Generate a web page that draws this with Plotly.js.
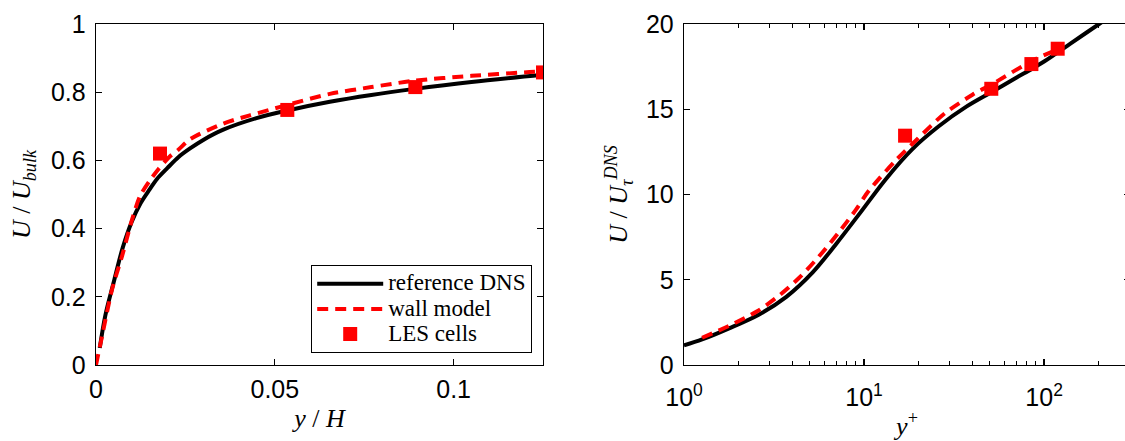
<!DOCTYPE html>
<html>
<head>
<meta charset="utf-8">
<script src="https://cdn.plot.ly/plotly-3.0.1.min.js"></script>
<style>
html,body{margin:0;padding:0;overflow:hidden;background:#fff;}
#chart{width:1140px;height:441px;}
</style>
</head>
<body>
<div id="chart"></div>
<script>
// ---- Left panel: U/U_bulk vs y/H ----
const dnsYH = [0.00105, 0.0026, 0.0050, 0.0075, 0.0100, 0.0125, 0.0150, 0.0170, 0.0200, 0.0231, 0.0263, 0.0300, 0.0356, 0.0449, 0.0542, 0.0654, 0.0770, 0.0886, 0.1050, 0.1250];
const dnsUb = [0.05, 0.145, 0.245, 0.345, 0.42, 0.475, 0.515, 0.545, 0.578, 0.61, 0.635, 0.66, 0.69, 0.724, 0.748, 0.772, 0.792, 0.809, 0.83, 0.851];
const wmYH = [0, 0.0017, 0.0045, 0.0073, 0.0101, 0.0123, 0.0150, 0.0175, 0.0207, 0.0231, 0.0263, 0.0356, 0.0430, 0.0533, 0.0654, 0.0770, 0.0886, 0.1050, 0.1212, 0.1250];
const wmUb = [0, 0.085, 0.222, 0.32, 0.427, 0.495, 0.54, 0.575, 0.612, 0.632, 0.662, 0.708, 0.732, 0.762, 0.795, 0.815, 0.833, 0.848, 0.859, 0.861];
const lesYH = [0.0179, 0.0535, 0.0893, 0.125];
const lesUb = [0.62, 0.748, 0.815, 0.858];

// ---- Right panel: U/U_tau vs y+ ----
const dnsYplus = [1, 1.26, 1.78, 2.6, 3.7, 5.2, 7.0, 9.4, 13.2, 18.5, 26, 37, 52, 70, 85, 100, 140, 202, 300];
const dnsUplus = [1.15, 1.5, 2.15, 2.95, 4.0, 5.45, 7.1, 8.85, 10.9, 12.65, 14.0, 15.15, 16.05, 16.85, 17.35, 17.8, 18.85, 20.0, 21.25];
const wmYplus = [1.26, 1.78, 2.55, 3.4, 4.35, 5.6, 7.2, 9.0, 10.6, 15, 20, 28, 40, 52, 86, 119];
const wmUplus = [1.6, 2.3, 3.15, 4.1, 5.1, 6.35, 7.75, 9.1, 10.2, 12.0, 13.3, 14.75, 15.85, 16.5, 17.85, 18.5];
const lesYplus = [16.9, 50.9, 85, 119];
const lesUplus = [13.45, 16.2, 17.65, 18.55];

// ---- Tick labels ----
const leftXTicks = [0, 0.05, 0.1];
const leftXTickText = ['0', '0.05', '0.1'];
const leftYTicks = [0, 0.2, 0.4, 0.6, 0.8, 1];
const rightXTicks = [1, 10, 100];
const rightXTickText = ['10<sup>0</sup>', '10<sup>1</sup>', '10<sup>2</sup>'];
const rightYTicks = [0, 5, 10, 15, 20];

const seriesNames = ['reference DNS', 'wall model', 'LES cells'];
const legendLabel = s => '<span style="font-size:23px">' + s + '</span>';

const RED = '#ff0000';
const lineDNS = {color: '#000000', width: 4, shape: 'spline', smoothing: 0.9};
const lineWM = {color: RED, width: 4, dash: '11px,7px', shape: 'spline', smoothing: 0.8};
const markLES = {symbol: 'square', size: 14, color: RED};

const traces = [
  {x: dnsYH, y: dnsUb, mode: 'lines', name: legendLabel(seriesNames[0]), line: lineDNS, xaxis: 'x', yaxis: 'y'},
  {x: wmYH, y: wmUb, mode: 'lines', name: legendLabel(seriesNames[1]), line: lineWM, xaxis: 'x', yaxis: 'y'},
  {x: lesYH, y: lesUb, mode: 'markers', name: legendLabel(seriesNames[2]), marker: markLES, xaxis: 'x', yaxis: 'y'},
  {x: dnsYplus, y: dnsUplus, mode: 'lines', showlegend: false, line: lineDNS, xaxis: 'x2', yaxis: 'y2'},
  {x: wmYplus, y: wmUplus, mode: 'lines', showlegend: false, line: lineWM, xaxis: 'x2', yaxis: 'y2'},
  {x: lesYplus, y: lesUplus, mode: 'markers', showlegend: false, marker: markLES, xaxis: 'x2', yaxis: 'y2'}
];

const tickFont = {family: '"Liberation Sans", Arial, sans-serif', size: 25, color: '#000'};
const titleFont = {family: '"Liberation Serif", "Times New Roman", serif', size: 26, color: '#000'};

const axBase = {
  showgrid: false, zeroline: false, showline: true, linecolor: '#000', linewidth: 1.3,
  mirror: 'ticks', ticks: 'inside', ticklen: 6, tickwidth: 1.2, tickcolor: '#000',
  tickfont: tickFont, automargin: false
};

const PW = 1034;
const layout = {
  width: 1140, height: 441,
  margin: {l: 96, r: 10, t: 24, b: 76},
  paper_bgcolor: '#fff', plot_bgcolor: '#fff',
  showlegend: true,
  legend: {
    x: (532 - 96) / PW, y: 0.035, xanchor: 'right', yanchor: 'bottom',
    bgcolor: '#fff', bordercolor: '#000', borderwidth: 1.2,
    font: {family: '"Liberation Serif", "Times New Roman", serif', size: 17, color: '#000'},
    tracegroupgap: 0, itemwidth: 66
  },
  xaxis: Object.assign({}, axBase, {
    domain: [0, 447 / PW], range: [0, 0.125],
    tickmode: 'array', tickvals: leftXTicks, ticktext: leftXTickText,
    ticklabelstandoff: 2,
    title: {text: '<i>y</i> / <i>H</i>', font: titleFont, standoff: 6}
  }),
  yaxis: Object.assign({}, axBase, {
    domain: [0, 1], range: [0, 1],
    tickmode: 'array', tickvals: leftYTicks,
    ticklabelstandoff: 4,
    title: {text: '<i>U</i> / <i>U</i><sub><i>bulk</i></sub>', font: titleFont, standoff: 12}
  }),
  xaxis2: Object.assign({}, axBase, {
    domain: [(684 - 96) / PW, 1], type: 'log', range: [0, Math.log10(300)],
    anchor: 'y2',
    tickmode: 'array', tickvals: rightXTicks, ticktext: rightXTickText,
    ticklabelstandoff: 10,
    minor: {ticks: 'inside', ticklen: 4, tickcolor: '#000', tickwidth: 1, dtick: 'D1'},
    title: {text: '<i>y</i><sup>+</sup>', font: titleFont, standoff: 7}
  }),
  yaxis2: Object.assign({}, axBase, {
    domain: [0, 1], range: [0, 20], anchor: 'x2',
    tickmode: 'array', tickvals: rightYTicks,
    ticklabelstandoff: 4,
    title: {text: '<i>U</i> / <i>U</i><sub><i>τ</i></sub><sup><i>DNS</i></sup>', font: titleFont, standoff: 10}
  })
};

Plotly.newPlot('chart', traces, layout, {staticPlot: true, displayModeBar: false});
</script>
</body>
</html>
